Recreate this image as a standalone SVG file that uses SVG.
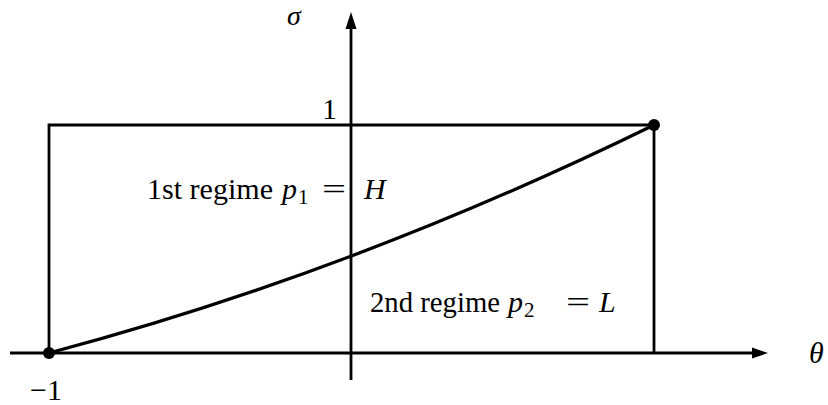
<svg xmlns="http://www.w3.org/2000/svg" width="828" height="405" viewBox="0 0 828 405">
<rect width="828" height="405" fill="#fff"/>
<g id="axes" stroke="#000" stroke-width="2.8" fill="none">
<line x1="10" y1="353" x2="756" y2="353"/>
<polygon points="768,353 752,347.5 752,358.5" fill="#000" stroke="none"/>
<line x1="351" y1="380" x2="351" y2="25"/>
<polygon points="351,12 345.5,29 356.5,29" fill="#000" stroke="none"/>
</g>
<g id="region" stroke="#000" stroke-width="2.8" fill="none">
<polyline points="49,353 49,125 654,125 654,353"/>
</g>
<g id="connectors" stroke="#000" stroke-width="3.2" fill="none">
<path d="M49,353 Q351,273.2 654,125"/>
</g>
<g id="p-start"><circle cx="49" cy="353" r="6" fill="#000"/></g>
<g id="p-end"><circle cx="654" cy="125" r="6" fill="#000"/></g>
<g id="labels">
<text font-family="Liberation Serif" font-size="28" font-style="italic" x="287" y="25">σ</text>
<text font-family="Liberation Serif" font-size="30" x="322" y="119">1</text>
<text font-family="Liberation Serif" font-size="30" font-style="italic" x="809" y="363">θ</text>
<text font-family="Liberation Serif" font-size="30" x="30" y="400">−1</text>
<text font-family="Liberation Serif" font-size="30" x="147" y="199" textLength="126" lengthAdjust="spacingAndGlyphs">1st regime</text>
<text font-family="Liberation Serif" font-size="30" font-style="italic" x="282" y="199">p</text>
<text font-family="Liberation Serif" font-size="21" x="298" y="204">1</text>
<text font-family="Liberation Serif" font-size="30" x="322" y="199" textLength="24" lengthAdjust="spacingAndGlyphs">=</text>
<text font-family="Liberation Serif" font-size="30" font-style="italic" x="364" y="199">H</text>
<text font-family="Liberation Serif" font-size="30" x="370" y="312" textLength="130" lengthAdjust="spacingAndGlyphs">2nd regime</text>
<text font-family="Liberation Serif" font-size="30" font-style="italic" x="508" y="312">p</text>
<text font-family="Liberation Serif" font-size="21" x="524" y="317">2</text>
<text font-family="Liberation Serif" font-size="30" x="566" y="312" textLength="24" lengthAdjust="spacingAndGlyphs">=</text>
<text font-family="Liberation Serif" font-size="30" font-style="italic" x="599" y="312">L</text>
</g>
</svg>
